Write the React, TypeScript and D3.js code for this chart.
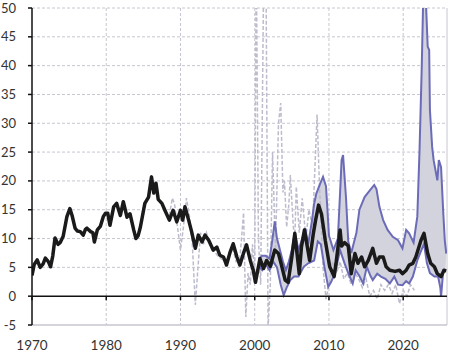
import * as d3 from 'd3';

// [year, value] pairs
const actual: [number, number][] = [
  [1970.0, 3.6], [1970.3, 5.5], [1970.7, 6.3], [1971.1, 5.0], [1971.5, 5.6], [1971.8, 6.6],
  [1972.2, 6.0], [1972.5, 5.1], [1972.8, 7.0], [1973.1, 10.1], [1973.5, 9.0], [1973.8, 9.3],
  [1974.2, 10.4], [1974.7, 13.8], [1975.1, 15.2], [1975.4, 14.0], [1975.8, 11.8], [1976.1, 11.3],
  [1976.5, 11.2], [1976.9, 10.6], [1977.2, 11.6], [1977.4, 11.8], [1977.9, 11.2], [1978.2, 11.0],
  [1978.4, 9.4], [1978.8, 11.5], [1979.2, 12.1], [1979.6, 13.8], [1979.9, 14.4], [1980.2, 14.4],
  [1980.5, 12.3], [1981.0, 15.5], [1981.4, 16.1], [1981.9, 14.0], [1982.3, 16.4], [1982.8, 13.7],
  [1983.2, 14.3], [1983.7, 11.5], [1984.0, 10.0], [1984.3, 10.5], [1984.6, 12.0], [1985.2, 16.1],
  [1985.7, 17.2], [1986.1, 20.7], [1986.4, 17.9], [1986.7, 19.6], [1987.0, 16.8], [1987.5, 16.1],
  [1987.9, 14.9], [1988.5, 13.2], [1989.0, 14.9], [1989.5, 12.9], [1990.0, 14.9], [1990.3, 13.2],
  [1990.6, 15.5], [1991.1, 13.2], [1991.5, 11.2], [1992.0, 8.3], [1992.4, 10.6], [1992.9, 9.4],
  [1993.3, 10.6], [1993.8, 9.7], [1994.4, 8.0], [1994.9, 8.5], [1995.3, 7.1], [1995.8, 6.8],
  [1996.2, 5.4], [1996.7, 7.7], [1997.1, 9.1], [1997.6, 6.8], [1998.0, 5.4], [1998.5, 7.5],
  [1998.9, 8.9], [1999.4, 6.2], [1999.8, 4.5], [2000.1, 2.4], [2000.7, 6.5], [2001.2, 4.8],
  [2001.6, 6.2], [2002.1, 5.2], [2002.7, 8.0], [2003.2, 7.4], [2003.6, 5.4], [2004.1, 2.8],
  [2004.5, 2.4], [2005.0, 6.8], [2005.4, 10.9], [2006.0, 3.9], [2006.3, 8.6], [2006.7, 11.5],
  [2007.4, 6.2], [2007.9, 10.9], [2008.2, 13.2], [2008.6, 15.8], [2009.0, 14.2], [2009.5, 9.7],
  [2010.1, 5.1], [2010.7, 3.4], [2011.0, 6.2], [2011.5, 11.5], [2011.7, 8.7], [2012.1, 9.3],
  [2012.6, 8.7], [2013.0, 3.9], [2013.5, 7.4], [2013.9, 5.7], [2014.4, 6.8], [2014.8, 5.1],
  [2015.3, 6.2], [2015.9, 8.3], [2016.4, 5.7], [2016.8, 6.8], [2017.3, 6.8], [2017.7, 5.1],
  [2018.2, 4.5], [2018.9, 4.3], [2019.5, 4.5], [2019.9, 3.9], [2020.4, 4.5], [2020.8, 5.4],
  [2021.3, 5.7], [2021.7, 6.8], [2022.4, 9.7], [2022.8, 10.9], [2023.3, 7.4], [2023.7, 5.7],
  [2024.2, 5.1], [2024.6, 3.9], [2025.1, 3.4], [2025.5, 4.5], [2025.8, 4.4],
];

const dashed: [number, number][] = [
  [1988.5, 14], [1988.9, 17], [1989.2, 16], [1989.6, 12], [1990.0, 8], [1990.4, 12],
  [1990.8, 17], [1991.2, 14], [1991.6, 9], [1992.0, -1.5], [1992.3, 4], [1992.7, 11],
  [1993.1, 9], [1993.5, 11], [1994.0, 9], [1994.5, 8], [1995.0, 7], [1995.5, 6.5],
  [1996.0, 6], [1996.5, 7], [1997.0, 8.5], [1997.5, 6], [1998.0, 6.5], [1998.5, 14.5],
  [1998.8, -3.6], [1999.1, 4], [1999.4, 2], [1999.7, 9], [2000.0, 4], [2000.2, 60],
  [2000.5, 10], [2000.8, 2], [2001.2, 55], [2001.5, 60], [2001.8, -5.5], [2002.1, 2],
  [2002.4, 25], [2002.8, 8], [2003.2, 30], [2003.5, 33.5], [2003.8, 18], [2004.0, 20],
  [2004.3, 12], [2004.6, 16], [2004.8, 21], [2005.2, 12], [2005.4, 10], [2005.6, 19],
  [2006.0, 11], [2006.4, 17], [2006.9, 10], [2007.3, 15], [2007.8, 12], [2008.1, 22],
  [2008.4, 31.5], [2008.7, 20], [2009.2, 5], [2009.6, -0.5], [2010.0, 2], [2010.5, 6],
  [2011.0, 4], [2011.5, 6], [2012.0, 3], [2012.5, 4], [2013.0, 2], [2013.5, 4],
  [2014.0, 3], [2014.5, 1.5], [2015.0, 3], [2015.5, 0], [2016.0, 1], [2016.5, -0.5],
  [2017.0, 2], [2017.5, 1], [2018.0, 2], [2018.5, 0.5], [2019.0, 2], [2019.5, -1.3],
  [2020.0, 1], [2020.5, 0], [2021.0, 2], [2021.5, 1],
];

const upper: [number, number][] = [
  [2000.5, 6.5], [2001.0, 7.0], [2001.5, 7.0], [2002.0, 6.5], [2002.4, 10.0], [2002.7, 13.0],
  [2003.0, 10.0], [2003.4, 8.0], [2003.8, 6.0], [2004.2, 4.5], [2004.6, 6.0], [2005.0, 8.0],
  [2005.4, 11.0], [2005.9, 8.0], [2006.4, 10.0], [2006.8, 11.8], [2007.2, 9.0], [2007.7, 13.0],
  [2008.0, 16.0], [2008.3, 17.8], [2008.8, 19.5], [2009.2, 20.7], [2009.6, 19.1], [2009.8, 14.9],
  [2010.0, 10.5], [2010.6, 8.0], [2011.2, 10.0], [2011.5, 18.0], [2011.7, 23.6], [2011.9, 24.5],
  [2012.3, 17.0], [2012.6, 9.5], [2013.0, 7.5], [2013.7, 11.0], [2014.1, 15.0], [2014.8, 17.2],
  [2015.4, 18.2], [2016.1, 19.3], [2016.4, 18.6], [2016.8, 15.5], [2017.3, 13.2], [2017.9, 11.5],
  [2018.6, 10.3], [2019.3, 9.7], [2019.9, 8.3], [2020.4, 11.5], [2020.8, 10.9], [2021.4, 9.3],
  [2021.9, 13.8], [2022.2, 25.3], [2022.5, 39.8], [2022.7, 52], [2023.0, 53], [2023.3, 43.3],
  [2023.5, 42.7], [2023.6, 32.3], [2023.9, 25.9], [2024.1, 23.6], [2024.6, 20.1], [2024.8, 23.6],
  [2025.1, 22.4], [2025.4, 14.4], [2025.6, 9.7], [2025.8, 7.4],
];

const lower: [number, number][] = [
  [2000.5, 5.5], [2001.0, 4.5], [2001.5, 5.5], [2002.0, 4.5], [2002.5, 6.0], [2003.0, 5.0],
  [2003.5, 2.0], [2003.9, 0.2], [2004.3, 1.5], [2004.8, 2.8], [2005.3, 3.4], [2005.9, 3.4],
  [2006.6, 5.1], [2007.2, 5.7], [2008.0, 6.2], [2008.5, 9.5], [2008.9, 9.0], [2009.4, 5.0],
  [2009.9, 1.6], [2010.3, 2.5], [2010.6, 3.4], [2011.0, 5.1], [2011.5, 8.0], [2012.1, 5.7],
  [2012.6, 4.0], [2013.2, 2.2], [2013.6, 4.5], [2014.1, 3.5], [2014.6, 2.2], [2015.1, 5.1],
  [2015.6, 3.5], [2015.9, 2.8], [2016.5, 3.9], [2017.0, 3.4], [2017.6, 3.0], [2018.2, 2.2],
  [2018.8, 3.4], [2019.3, 2.0], [2019.9, 1.9], [2020.4, 2.6], [2020.8, 2.2], [2021.3, 3.4],
  [2021.9, 6.2], [2022.3, 7.5], [2022.8, 9.1], [2023.2, 5.7], [2023.6, 4.0], [2024.2, 3.4],
  [2024.7, 3.4], [2025.0, 1.5], [2025.1, -0.1], [2025.4, 4.5], [2025.7, 4.5],
];

const yTicks = [-5, 0, 5, 10, 15, 20, 25, 30, 35, 40, 45, 50];
const xTicks = [1970, 1980, 1990, 2000, 2010, 2020];

const W = 451;
const H = 353;

export default function App() {
  const x = d3.scaleLinear().domain([1970, 2025.9]).range([32, 447]);
  const y = d3.scaleLinear().domain([-5, 50]).range([325, 8]);
  const [x0, x1] = x.range();
  const [yBottom, yTop] = y.range();

  const line = d3.line<[number, number]>()
    .x(d => x(d[0]))
    .y(d => y(d[1]));

  const band = line([...upper, ...lower.slice().reverse()]) + 'Z';
  const font = 'Lato, "Open Sans", sans-serif';

  return (
    <div style={{ position: 'absolute', left: 0, top: 0 }}>
      <svg width={W} height={H} style={{ display: 'block', background: '#fff' }}>
        <defs>
          <clipPath id="plot">
            <rect x={x0} y={yTop} width={x1 - x0} height={yBottom - yTop} />
          </clipPath>
        </defs>

        {/* grid */}
        {yTicks.filter(t => t !== 0 && t !== -5).map(t => (
          <line key={'gy' + t} x1={x0} x2={x1} y1={y(t)} y2={y(t)}
            stroke="#c6c6d0" strokeWidth={1} strokeDasharray="3,2" />
        ))}
        {xTicks.filter(t => t !== 1970).map(t => (
          <line key={'gx' + t} x1={x(t)} x2={x(t)} y1={yTop} y2={yBottom}
            stroke="#c6c6d0" strokeWidth={1} strokeDasharray="3,2" />
        ))}
        <line x1={x1} x2={x1} y1={yTop} y2={yBottom} stroke="#c6c6d0" strokeWidth={1} />
        <line x1={x0} x2={x1} y1={yBottom} y2={yBottom} stroke="#c6c6d0" strokeWidth={1.5} />

        <g clipPath="url(#plot)">
          <path d={band} fill="#d3d3dd" stroke="none" />
          <path d={line(dashed) ?? ''} fill="none" stroke="#bcbccc" strokeWidth={1.5}
            strokeDasharray="4,2" />
          <path d={line(upper) ?? ''} fill="none" stroke="#6b6bb8" strokeWidth={2} />
          <path d={line(lower) ?? ''} fill="none" stroke="#6b6bb8" strokeWidth={2} />
          <path d={line(actual) ?? ''} fill="none" stroke="#1a1a1a" strokeWidth={3.5}
            strokeLinejoin="round" />
        </g>

        {/* zero line with decade ticks */}
        <line x1={x0} x2={x1} y1={y(0)} y2={y(0)} stroke="#111" strokeWidth={1.5} />
        {xTicks.map(t => (
          <line key={'tx' + t} x1={x(t)} x2={x(t)} y1={y(0)} y2={y(0) + 4} stroke="#111" strokeWidth={1.5} />
        ))}

        {/* left axis */}
        <line x1={x0} x2={x0} y1={yTop} y2={yBottom} stroke="#111" strokeWidth={1.5} />
        {yTicks.map(t => (
          <line key={'ty' + t} x1={x0 - 4} x2={x0} y1={y(t)} y2={y(t)} stroke="#111" strokeWidth={1.5} />
        ))}

        {yTicks.map(t => (
          <text key={'ly' + t} x={16} y={y(t) + 4.5} textAnchor="end"
            fontFamily={font} fontSize={13} fill="#333">{t}</text>
        ))}
        {xTicks.map(t => (
          <text key={'lx' + t} x={x(t)} y={350} textAnchor="middle"
            fontFamily={font} fontSize={13.5} fill="#333">{t}</text>
        ))}
      </svg>
    </div>
  );
}
